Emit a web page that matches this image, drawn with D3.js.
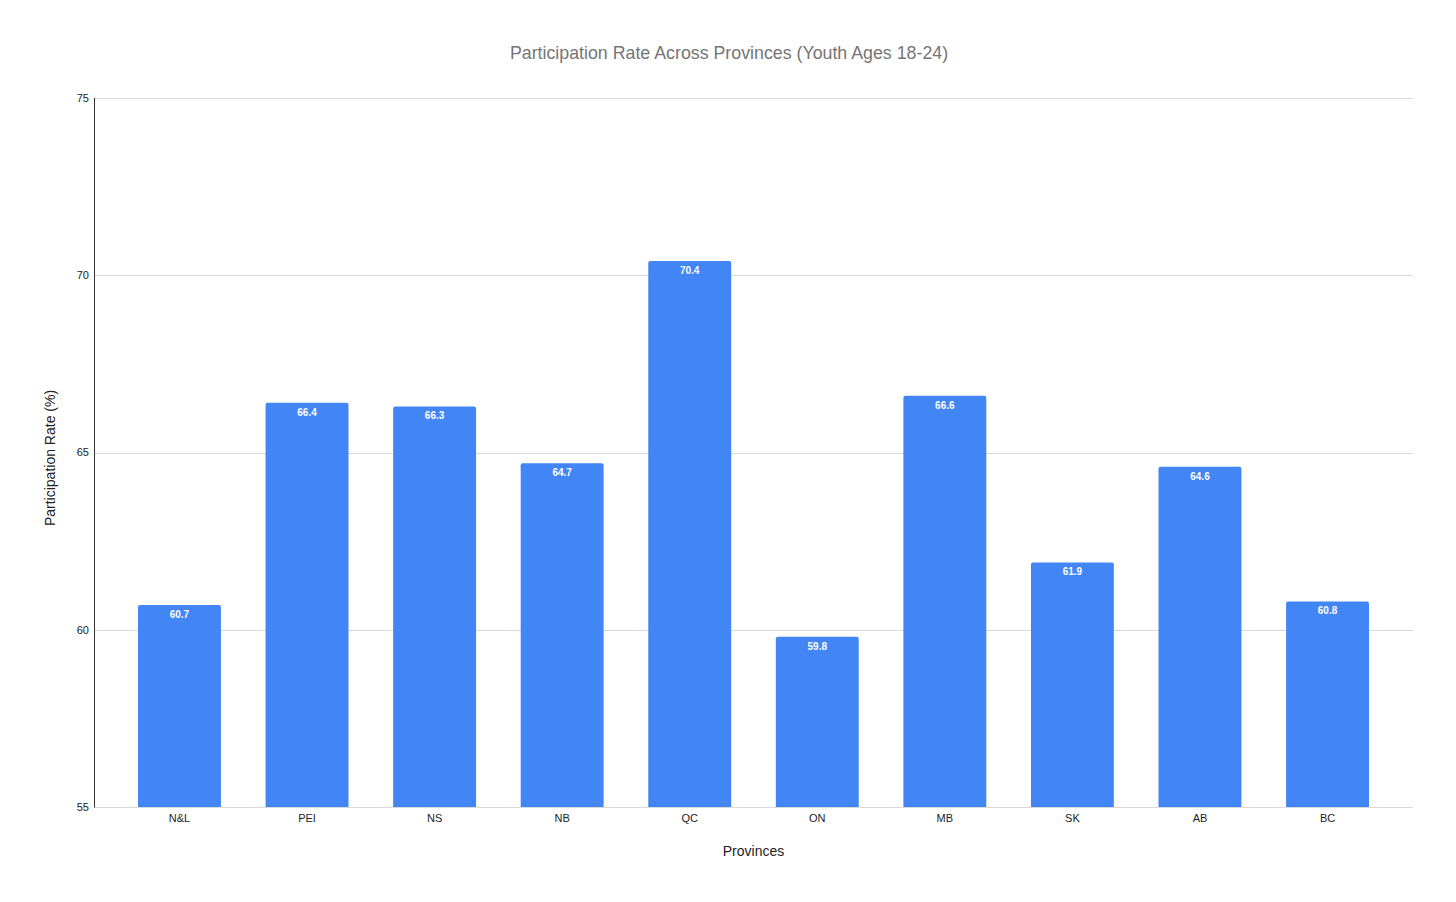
<!DOCTYPE html>
<html>
<head>
<meta charset="utf-8">
<script src="https://cdn.jsdelivr.net/npm/d3@7"></script>
<style>
  body { margin: 0; background: #fff; }
  svg { display: block; font-family: Arial, "Liberation Sans", sans-serif; }
</style>
</head>
<body>
<script>
// data
var provinces = ["N&L", "PEI", "NS", "NB", "QC", "ON", "MB", "SK", "AB", "BC"];
var rates = [60.7, 66.4, 66.3, 64.7, 70.4, 59.8, 66.6, 61.9, 64.6, 60.8];
var yTicks = [55, 60, 65, 70, 75];

var W = 1456, H = 902;
var margin = { top: 98, right: 43, bottom: 95, left: 94 }; // plot: x 94..1413, y 98..807
var barColor = "#4285f4";

var svg = d3.select("body").append("svg")
    .attr("width", W)
    .attr("height", H);

var x = d3.scaleBand()
    .domain(provinces)
    .range([margin.left, W - margin.right])
    .paddingInner(0.35)
    .paddingOuter(0.345);

var y = d3.scaleLinear()
    .domain([55, 75])
    .range([H - margin.bottom, margin.top]);

// gridlines
svg.append("g")
    .selectAll("line")
    .data(yTicks)
    .enter()
    .append("line")
    .attr("x1", margin.left)
    .attr("x2", W - margin.right)
    .attr("y1", function (d) { return Math.round(y(d)) + 0.5; })
    .attr("y2", function (d) { return Math.round(y(d)) + 0.5; })
    .attr("stroke", "#d9d9d9")
    .attr("stroke-width", 1);

// y tick labels
svg.append("g")
    .selectAll("text")
    .data(yTicks)
    .enter()
    .append("text")
    .attr("x", margin.left - 5)
    .attr("y", function (d) { return y(d); })
    .attr("dy", "0.35em")
    .attr("text-anchor", "end")
    .attr("font-size", 11)
    .attr("fill", "#222")
    .text(function (d) { return d; });

// bars, slightly rounded top corners
var r = 2;
svg.append("g")
    .selectAll("path")
    .data(rates)
    .enter()
    .append("path")
    .attr("fill", barColor)
    .attr("d", function (d, i) {
        var x0 = x(provinces[i]), w = x.bandwidth();
        var y0 = y(d), y1 = y(55);
        return "M" + x0 + "," + y1 +
            "V" + (y0 + r) +
            "Q" + x0 + "," + y0 + " " + (x0 + r) + "," + y0 +
            "H" + (x0 + w - r) +
            "Q" + (x0 + w) + "," + y0 + " " + (x0 + w) + "," + (y0 + r) +
            "V" + y1 + "Z";
    });

// value labels
svg.append("g")
    .selectAll("text")
    .data(rates)
    .enter()
    .append("text")
    .attr("x", function (d, i) { return x(provinces[i]) + x.bandwidth() / 2; })
    .attr("y", function (d) { return y(d) + 13; })
    .attr("text-anchor", "middle")
    .attr("font-size", 10)
    .attr("font-weight", "bold")
    .attr("fill", "#fff")
    .text(function (d) { return d.toFixed(1); });

// left axis line
svg.append("line")
    .attr("x1", margin.left + 0.5)
    .attr("x2", margin.left + 0.5)
    .attr("y1", margin.top)
    .attr("y2", H - margin.bottom + 0.5)
    .attr("stroke", "#333")
    .attr("stroke-width", 1);

// x tick labels
svg.append("g")
    .selectAll("text")
    .data(provinces)
    .enter()
    .append("text")
    .attr("x", function (d) { return x(d) + x.bandwidth() / 2; })
    .attr("y", H - margin.bottom + 15)
    .attr("text-anchor", "middle")
    .attr("font-size", 11)
    .attr("fill", "#222")
    .text(function (d) { return d; });

// title
svg.append("text")
    .attr("x", 729)
    .attr("y", 59)
    .attr("text-anchor", "middle")
    .attr("font-size", 17.8)
    .attr("fill", "#757575")
    .text("Participation Rate Across Provinces (Youth Ages 18-24)");

// axis titles
svg.append("text")
    .attr("x", (margin.left + W - margin.right) / 2)
    .attr("y", 856)
    .attr("text-anchor", "middle")
    .attr("font-size", 14)
    .attr("fill", "#222")
    .text("Provinces");

svg.append("text")
    .attr("transform", "translate(55,458) rotate(-90)")
    .attr("text-anchor", "middle")
    .attr("font-size", 14)
    .attr("fill", "#222")
    .text("Participation Rate (%)");
</script>
</body>
</html>
